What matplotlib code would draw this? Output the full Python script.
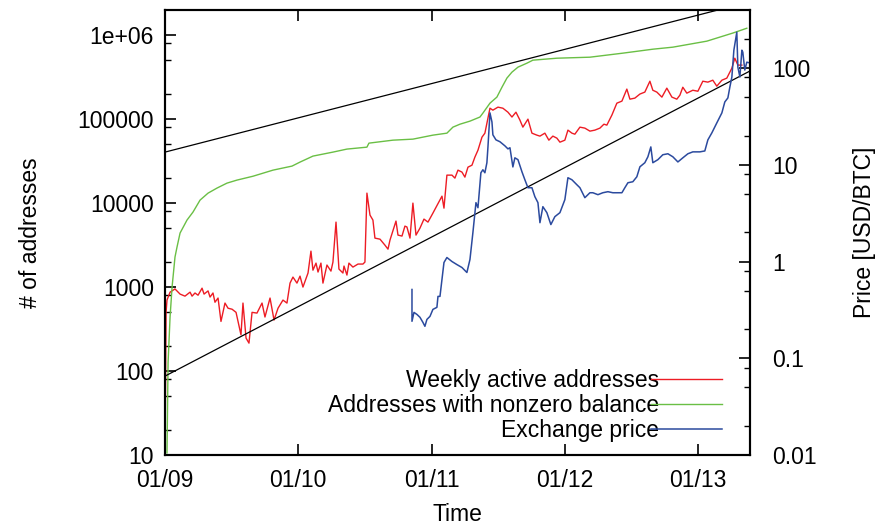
import numpy as np
import matplotlib as mpl
mpl.use('agg')
import matplotlib.pyplot as plt
from matplotlib.ticker import FixedLocator, NullFormatter

plt.rcParams['font.family'] = ['Liberation Sans', 'DejaVu Sans']

# weekly active addresses (decimal year, count)
active_t = [2009.000, 2009.008, 2009.015, 2009.038, 2009.075, 2009.113, 2009.150, 2009.188,
            2009.203, 2009.225, 2009.248, 2009.278, 2009.293, 2009.323, 2009.338, 2009.360,
            2009.375, 2009.398, 2009.420, 2009.450, 2009.473, 2009.503, 2009.533, 2009.570,
            2009.585, 2009.608, 2009.630, 2009.653, 2009.690, 2009.728, 2009.750, 2009.788,
            2009.818, 2009.848, 2009.885, 2009.915, 2009.938, 2009.960, 2009.990, 2010.013,
            2010.035, 2010.073, 2010.095, 2010.110, 2010.133, 2010.148, 2010.170, 2010.185,
            2010.215, 2010.245, 2010.260, 2010.283, 2010.305, 2010.335, 2010.343, 2010.365,
            2010.380, 2010.410, 2010.448, 2010.485, 2010.500, 2010.515, 2010.538, 2010.560,
            2010.575, 2010.613, 2010.650, 2010.673, 2010.688, 2010.733, 2010.748, 2010.778,
            2010.800, 2010.815, 2010.838, 2010.860, 2010.883, 2010.913, 2010.943, 2010.973,
            2011.010, 2011.078, 2011.093, 2011.115, 2011.153, 2011.175, 2011.198, 2011.228,
            2011.250, 2011.273, 2011.303, 2011.325, 2011.348, 2011.378, 2011.400, 2011.438,
            2011.460, 2011.498, 2011.535, 2011.573, 2011.603, 2011.633, 2011.663, 2011.685,
            2011.723, 2011.753, 2011.790, 2011.813, 2011.850, 2011.880, 2011.910, 2011.940,
            2011.963, 2012.000, 2012.023, 2012.053, 2012.075, 2012.113, 2012.150, 2012.188,
            2012.225, 2012.263, 2012.293, 2012.315, 2012.353, 2012.390, 2012.428, 2012.465,
            2012.488, 2012.525, 2012.563, 2012.600, 2012.638, 2012.660, 2012.690, 2012.728,
            2012.765, 2012.803, 2012.840, 2012.863, 2012.885, 2012.915, 2012.960, 2012.998,
            2013.035, 2013.073, 2013.110, 2013.140, 2013.178, 2013.215, 2013.253, 2013.275,
            2013.298, 2013.328]
active_v = [10, 500, 700, 870, 950, 825, 780, 870,
            780, 850, 800, 970, 825, 900, 760, 850,
            660, 740, 390, 645, 560, 545, 500, 270,
            645, 247, 215, 500, 490, 645, 440, 740,
            405, 560, 700, 645, 1115, 1315, 1115, 1350,
            1000, 1470, 2680, 1590, 1930, 1510, 1930, 1115,
            1830, 1550, 1985, 5940, 1640, 1470, 1780, 1390,
            1930, 1730, 1880, 1880, 1985, 13150, 7200, 6280,
            3830, 3720, 3160, 2830, 3630, 6110, 4160, 4050,
            5320, 5200, 3830, 10000, 4160, 5040, 6450, 5940,
            7600, 12100, 8710, 21540, 21540, 19850, 24700, 23400,
            20400, 26800, 28300, 35300, 42700, 61000, 68100, 135000,
            128000, 139000, 135000, 121000, 106000, 121000, 97300, 80300,
            100000, 68100, 64500, 62800, 68100, 56200, 62800, 59400,
            53200, 56200, 74000, 68100, 66200, 80300, 78200, 72000,
            74000, 78200, 87100, 84900, 112000, 155000, 164000, 228000,
            173000, 178000, 199000, 210000, 283000, 221000, 210000, 183000,
            234000, 183000, 173000, 193000, 240000, 204000, 221000, 215000,
            283000, 276000, 291000, 247000, 291000, 308000, 405000, 532000,
            440000, 440000]

# addresses with nonzero balance
nonzero_t = [2009.015, 2009.023, 2009.038, 2009.053, 2009.075, 2009.090, 2009.113, 2009.165,
             2009.210, 2009.263, 2009.323, 2009.390, 2009.465, 2009.540, 2009.660, 2009.810,
             2009.953, 2010.013, 2010.110, 2010.260, 2010.365, 2010.515, 2010.530, 2010.710,
             2010.860, 2011.010, 2011.115, 2011.160, 2011.213, 2011.288, 2011.363, 2011.385,
             2011.438, 2011.490, 2011.528, 2011.565, 2011.603, 2011.648, 2011.715, 2011.760,
             2011.940, 2012.188, 2012.435, 2012.660, 2012.810, 2013.065, 2013.260, 2013.365]
nonzero_v = [10.6, 125, 440, 1000, 2280, 2990, 4400, 6280,
             7820, 10860, 13150, 15100, 17300, 18800, 20900, 24700,
             27600, 30800, 36300, 40500, 44000, 46400, 51800, 56200,
             57800, 64500, 68100, 80300, 87100, 94700, 106000, 118000,
             155000, 183000, 240000, 308000, 363000, 416000, 464000, 504000,
             532000, 547000, 611000, 681000, 720000, 849000, 1060000, 1210000]

# exchange price, USD/BTC
price_t = [2010.853, 2010.853, 2010.868, 2010.890, 2010.913, 2010.935, 2010.950, 2010.965,
           2010.988, 2011.010, 2011.040, 2011.048, 2011.063, 2011.093, 2011.115, 2011.153,
           2011.190, 2011.228, 2011.265, 2011.288, 2011.310, 2011.333, 2011.348, 2011.370,
           2011.385, 2011.400, 2011.415, 2011.423, 2011.438, 2011.453, 2011.460, 2011.483,
           2011.513, 2011.550, 2011.573, 2011.588, 2011.610, 2011.625, 2011.648, 2011.678,
           2011.700, 2011.723, 2011.753, 2011.775, 2011.798, 2011.813, 2011.835, 2011.865,
           2011.895, 2011.925, 2011.963, 2012.000, 2012.023, 2012.053, 2012.090, 2012.113,
           2012.150, 2012.188, 2012.210, 2012.248, 2012.285, 2012.323, 2012.360, 2012.428,
           2012.450, 2012.473, 2012.510, 2012.540, 2012.563, 2012.600, 2012.623, 2012.645,
           2012.660, 2012.698, 2012.735, 2012.773, 2012.810, 2012.848, 2012.885, 2012.923,
           2012.960, 2013.013, 2013.050, 2013.073, 2013.103, 2013.140, 2013.178, 2013.200,
           2013.223, 2013.238, 2013.253, 2013.268, 2013.290, 2013.298, 2013.313, 2013.328,
           2013.335, 2013.350, 2013.365, 2013.388]
price_v = [0.514, 0.241, 0.298, 0.284, 0.265, 0.235, 0.214, 0.252,
           0.271, 0.320, 0.336, 0.436, 0.436, 0.977, 1.10, 1.0,
           0.93, 0.867, 0.77, 1.05, 1.99, 4.06, 3.6, 8.27,
           8.88, 8.27, 10.5, 15.3, 34.4, 27.7, 20.4, 18.1,
           17.3, 15.7, 14.6, 15.0, 9.5, 11.8, 11.3, 8.47,
           7.0, 5.79, 5.79, 4.68, 4.06, 2.52, 3.69, 3.2,
           2.41, 2.91, 3.2, 4.36, 7.35, 7.0, 6.22, 5.79,
           4.57, 5.14, 5.14, 4.91, 5.14, 5.27, 5.14, 5.14,
           5.79, 6.52, 6.68, 7.52, 9.53, 10.5, 12.1, 15.3,
           10.5, 11.3, 12.7, 13.0, 12.1, 10.7, 11.8, 13.0,
           13.6, 13.6, 13.9, 18.1, 21.4, 27.1, 34.4, 44.6,
           49.1, 63.7, 80.8, 153, 235, 102, 80.8, 153,
           146, 95.3, 115, 113]

# exponential guide lines: value at 01/09 and decades per year
guide_hi = (40500, 0.408)
guide_lo = (87, 0.828)

year_ticks = [2009, 2010, 2011, 2012, 2013]
year_labels = ["01/09", "01/10", "01/11", "01/12", "01/13"]
left_ticks = [10, 100, 1000, 10000, 100000, 1000000]
left_labels = ["10", "100", "1000", "10000", "100000", "1e+06"]
right_ticks = [0.01, 0.1, 1, 10, 100]
right_labels = ["0.01", "0.1", "1", "10", "100"]

x0, x1 = 2009.0, 2013.389

fig = plt.figure(figsize=(8.78, 5.26), dpi=100)
ax = fig.add_axes([165 / 878, 1 - 455 / 526, 585 / 878, 445 / 526])
ax2 = ax.twinx()

red = '#ed1c24'
green = '#6abf45'
blue = '#2b4a9e'

la, = ax.plot(active_t, active_v, color=red, lw=1.0)
ln, = ax.plot(nonzero_t, nonzero_v, color=green, lw=1.0)
xs = np.array([x0, x1])
for start, rate in (guide_hi, guide_lo):
    ax.plot(xs, start * 10 ** (rate * (xs - x0)), color='black', lw=0.9)
lp, = ax2.plot(price_t, price_v, color=blue, lw=1.1)

ax.set_yscale('log')
ax2.set_yscale('log')
ax.set_xlim(x0, x1)

fs = 16.5
minor_mult = [2, 5, 8]
left_minor = [m * 10 ** k for k in range(1, 7) for m in minor_mult]
right_minor = [m * 10 ** k for k in range(-2, 3) for m in minor_mult]

ax.set_xticks(year_ticks)
ax.set_xticklabels(year_labels, fontsize=fs)
ax.set_yticks(left_ticks)
ax.set_yticklabels(left_labels, fontsize=fs)
ax.yaxis.set_minor_locator(FixedLocator(left_minor))
ax.yaxis.set_minor_formatter(NullFormatter())
ax2.set_yticks(right_ticks)
ax2.set_yticklabels(right_labels, fontsize=fs)
ax2.yaxis.set_minor_locator(FixedLocator(right_minor))
ax2.yaxis.set_minor_formatter(NullFormatter())
ax.set_ylim(10, 10 ** 6.3)
ax2.set_ylim(0.01, 10 ** 2.6)

ax.tick_params(axis='x', which='major', direction='in', top=True, length=8, width=1.2, pad=10)
ax.tick_params(axis='y', which='major', direction='in', right=False, length=8, width=1.2, pad=8)
ax.tick_params(axis='y', which='minor', direction='in', right=False, length=4, width=1.0)
ax2.tick_params(axis='y', which='major', direction='in', length=8, width=1.2, pad=16)
ax2.tick_params(axis='y', which='minor', direction='in', length=4, width=1.0)
for a in (ax, ax2):
    for s in a.spines.values():
        s.set_linewidth(1.5)

ax.set_xlabel("Time", fontsize=fs)
ax.set_ylabel("# of addresses", fontsize=fs)
ax2.set_ylabel("Price [USD/BTC]", fontsize=fs)
ax.xaxis.set_label_coords(0.5, -0.107)
ax.yaxis.set_label_coords(-0.21, 0.5)
ax2.yaxis.set_label_coords(1.176, 0.5)

ax2.legend([la, ln, lp],
           ["Weekly active addresses", "Addresses with nonzero balance", "Exchange price"],
           loc='lower right', bbox_to_anchor=(0.952, 0.03), frameon=False,
           markerfirst=False, fontsize=fs, handlelength=3.1, handletextpad=-0.35,
           labelspacing=0.08, borderpad=0, borderaxespad=0)

fig.savefig("out.png", dpi=100)
